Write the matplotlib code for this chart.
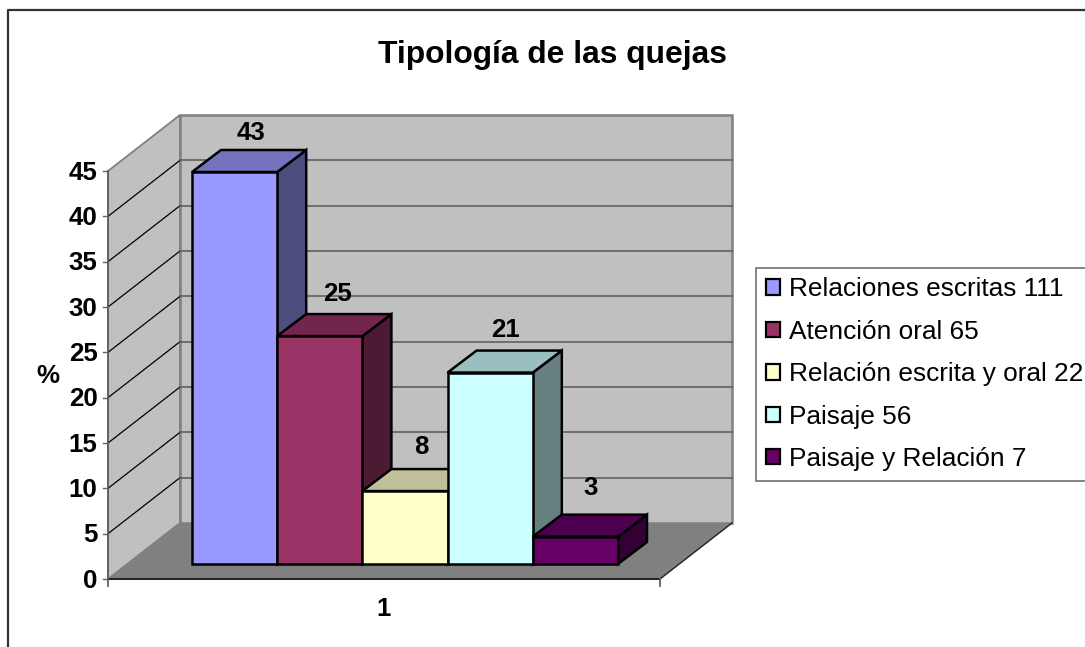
import matplotlib
matplotlib.use("Agg")
import matplotlib.pyplot as plt
from matplotlib.patches import Polygon, Patch
import numpy as np

plt.rcParams['font.family'] = ['Liberation Sans', 'DejaVu Sans']

title = "Tipología de las quejas"
y_title = "%"
category = "1"
series = ["Relaciones escritas 111", "Atención oral 65", "Relación escrita y oral 22",
          "Paisaje 56", "Paisaje y Relación 7"]
values = [43, 25, 8, 21, 3]
colors = ["#9999FF", "#993366", "#FFFFCC", "#CCFFFF", "#660066"]
y_ticks = list(range(0, 50, 5))

fig = plt.figure(figsize=(10.85, 6.47), dpi=100)
ax = fig.add_axes([0, 0, 1, 1])
ax.set_xlim(0, 1085)
ax.set_ylim(647, 0)
ax.axis('off')

# projection of the oblique 3-D box, in figure pixels
X0, X1, Y0 = 108, 660, 579
UNIT = (579 - 171) / 45
DX, DY = 72, -56
YTOP = Y0 - 45 * UNIT


def shade(c, f):
    r, g, b = matplotlib.colors.to_rgb(c)
    return (r * f, g * f, b * f)


# chart border
ax.plot([7.5, 7.5, 1085], [647, 9.5, 9.5], color="#333333", lw=1.6, zorder=1)

# walls and floor
ax.add_patch(Polygon([(X0, Y0), (X0, YTOP), (X0 + DX, YTOP + DY), (X0 + DX, Y0 + DY)],
                     fc="#C0C0C0", ec="#808080", lw=1.3, zorder=2))
ax.add_patch(Polygon([(X0 + DX, Y0 + DY), (X0 + DX, YTOP + DY), (X1 + DX, YTOP + DY), (X1 + DX, Y0 + DY)],
                     fc="#C0C0C0", ec="#808080", lw=1.8, zorder=2))
ax.add_patch(Polygon([(X0, Y0), (X1, Y0), (X1 + DX, Y0 + DY), (X0 + DX, Y0 + DY)],
                     fc="#808080", ec="none", zorder=3))

# gridlines and y ticks
for t in y_ticks:
    y = Y0 - t * UNIT
    if 0 < t < 45:
        ax.plot([X0, X0 + DX], [y, y + DY], color="black", lw=0.9, zorder=4)
        ax.plot([X0 + DX, X1 + DX], [y + DY, y + DY], color="#606060", lw=1.2, zorder=4)
    ax.plot([X0 - 5, X0], [y, y], color="#606060", lw=1.0, zorder=4)
    ax.text(97.5, y - 1, str(t), ha='right', va='center_baseline', fontsize=18.6, fontweight='bold', zorder=8)

# axes lines
ax.plot([X0, X1], [Y0, Y0], color="#202020", lw=1.4, zorder=5)
ax.plot([X1 + DX, X1], [Y0 + DY, Y0], color="#202020", lw=1.0, zorder=5)
ax.plot([X0, X0], [YTOP, Y0 + 7], color="#606060", lw=1.3, zorder=5)
ax.plot([X1, X1], [Y0, Y0 + 7], color="#606060", lw=1.3, zorder=5)

# bars
BAR_LEFT, BAR_W = 192, 85.2
BASE = 564
BAR_UNIT = (BASE - 172) / 43
BDX, BDY = 29, -22
label_nudge_x = [0, 2, 0, -1, -1]
label_nudge_y = [4.5, 2, 0, 1, -5]
for i, (v, c) in enumerate(zip(values, colors)):
    l = BAR_LEFT + i * BAR_W
    r = l + BAR_W
    top = BASE - v * BAR_UNIT
    kw = dict(ec="black", lw=1.8, joinstyle='miter', zorder=6)
    ax.add_patch(Polygon([(r, BASE), (r + BDX, BASE + BDY), (r + BDX, top + BDY), (r, top)],
                         fc=shade(c, 0.5), **kw))
    ax.add_patch(Polygon([(l, top), (l + BDX, top + BDY), (r + BDX, top + BDY), (r, top)],
                         fc=shade(c, 0.75), **kw))
    ax.add_patch(Polygon([(l, BASE), (l, top), (r, top), (r, BASE)], fc=c, **kw))
    ax.text((l + r) / 2 + 16 + label_nudge_x[i], top - 44 + label_nudge_y[i], str(v),
            ha='center', va='center', fontsize=18.6, fontweight='bold', zorder=8)

# texts
ax.text(552.5, 55, title, ha='center', va='center', fontsize=22.9, fontweight='bold')
ax.text(48, 376, y_title, ha='center', va='center', fontsize=18.6, fontweight='bold')
ax.text(384, 609, category, ha='center', va='center', fontsize=18.6, fontweight='bold')

# legend
handles = [Patch(fc=c, ec="black", lw=1.6, label=s) for s, c in zip(series, colors)]
leg = ax.legend(handles=handles, loc='upper left', bbox_to_anchor=(756 / 1085, 1 - 267.5 / 647),
                bbox_transform=fig.transFigure, fontsize=18.9, frameon=True, fancybox=False,
                edgecolor="#707070", facecolor="white", framealpha=1, borderaxespad=0,
                handlelength=0.53, handleheight=0.53, handletextpad=0.34,
                labelspacing=0.70, borderpad=0.38)
leg.get_frame().set_linewidth(1.2)
leg.set_zorder(9)

fig.savefig("out.png", dpi=100)
